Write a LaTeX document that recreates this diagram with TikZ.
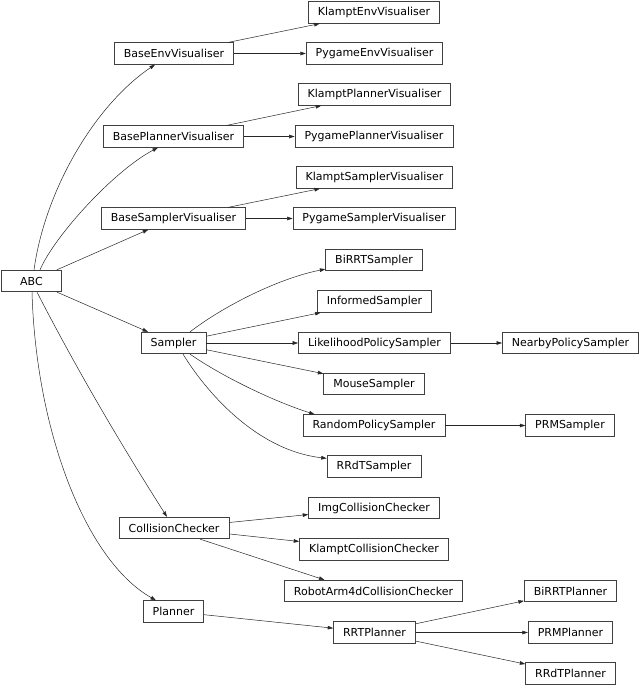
\documentclass[tikz,border=0pt]{standalone}
\usepackage{fontspec}
\setmainfont{DejaVu Sans}
\usetikzlibrary{arrows.meta}
\tikzset{
  cls/.style={draw=black!75, line width=0.75pt, fill=white, inner xsep=9.5pt, inner ysep=0pt,
    minimum height=21.5pt, minimum width=60pt, font=\fontsize{11}{13}\selectfont, text=black},
  inh/.style={draw=black!85, line width=0.5pt, -{Triangle[length=5.5pt,width=3.6pt]}},
}
\begin{document}
\begin{tikzpicture}[x=1pt,y=-1pt]
\useasboundingbox (0,0) rectangle (640,685);
% nodes
\node[cls] (ABC) at (31.5,281) {ABC};
\node[cls] (BaseEnv) at (174,53.5) {BaseEnvVisualiser};
\node[cls] (KlamptEnv) at (374,12.5) {KlamptEnvVisualiser};
\node[cls] (PygameEnv) at (374.5,53.5) {PygameEnvVisualiser};
\node[cls] (BasePlanner) at (173.5,136.5) {BasePlannerVisualiser};
\node[cls] (KlamptPlanner) at (374.5,94.5) {KlamptPlannerVisualiser};
\node[cls] (PygamePlanner) at (374,136.5) {PygamePlannerVisualiser};
\node[cls] (BaseSampler) at (173.5,218.5) {BaseSamplerVisualiser};
\node[cls] (KlamptSampler) at (374.5,177.5) {KlamptSamplerVisualiser};
\node[cls] (PygameSampler) at (374,218.5) {PygameSamplerVisualiser};
\node[cls] (BiRRTS) at (374,260) {BiRRTSampler};
\node[cls] (Informed) at (374.5,301.5) {InformedSampler};
\node[cls] (Sampler) at (173.5,343) {Sampler};
\node[cls] (Likelihood) at (374.5,343) {LikelihoodPolicySampler};
\node[cls] (Nearby) at (570.5,343) {NearbyPolicySampler};
\node[cls] (Mouse) at (374,384) {MouseSampler};
\node[cls] (RandomP) at (374,425.5) {RandomPolicySampler};
\node[cls] (PRMS) at (570,425.5) {PRMSampler};
\node[cls] (RRdTS) at (374,466.5) {RRdTSampler};
\node[cls] (Img) at (374,508) {ImgCollisionChecker};
\node[cls] (CC) at (174,528) {CollisionChecker};
\node[cls] (KlamptCC) at (374,549.5) {KlamptCollisionChecker};
\node[cls] (RobotArm) at (373.5,591) {RobotArm4dCollisionChecker};
\node[cls] (BiRRTP) at (570.5,591) {BiRRTPlanner};
\node[cls] (Planner) at (173.5,611.5) {Planner};
\node[cls] (RRT) at (374.5,632.5) {RRTPlanner};
\node[cls] (PRMP) at (570.5,632.5) {PRMPlanner};
\node[cls] (RRdTP) at (570.5,673.5) {RRdTPlanner};
% edges from ABC
\draw[inh] ([xshift=2.5pt]ABC.north) .. controls (45,190) and (95,105) .. ([xshift=-19pt]BaseEnv.south);
\draw[inh] ([xshift=8.5pt]ABC.north) .. controls (55,235) and (115,170) .. ([xshift=-15.5pt]BasePlanner.south);
\draw[inh] (ABC) -- (BaseSampler);
\draw[inh] (ABC) -- (Sampler);
\draw[inh] ([xshift=5.5pt]ABC.south) .. controls (76,368) and (120,443) .. ([xshift=-7pt]CC.north);
\draw[inh] ([xshift=0.5pt]ABC.south) .. controls (36,430) and (85,560) .. ([xshift=-17.5pt]Planner.north);
% visualisers
\draw[inh] (BaseEnv) -- (KlamptEnv);
\draw[inh] (BaseEnv) -- (PygameEnv);
\draw[inh] (BasePlanner) -- (KlamptPlanner);
\draw[inh] (BasePlanner) -- (PygamePlanner);
\draw[inh] (BaseSampler) -- (KlamptSampler);
\draw[inh] (BaseSampler) -- (PygameSampler);
% samplers
\draw[inh] ([xshift=16.5pt]Sampler.north) .. controls (225,305) and (280,278) .. ([yshift=2pt]BiRRTS.south west);
\draw[inh] (Sampler) -- (Informed);
\draw[inh] (Sampler) -- (Likelihood);
\draw[inh] (Sampler) -- (Mouse);
\draw[inh] ([xshift=16.5pt]Sampler.south) .. controls (220,375) and (270,400) .. ([xshift=12pt]RandomP.north west);
\draw[inh] ([xshift=9.5pt]Sampler.south) .. controls (205,390) and (255,450) .. ([yshift=-3pt]RRdTS.north west);
\draw[inh] (Likelihood) -- (Nearby);
\draw[inh] (RandomP) -- (PRMS);
% collision checkers
\draw[inh] (CC) -- (Img);
\draw[inh] (CC) -- (KlamptCC);
\draw[inh] ([xshift=26pt]CC.south) -- ([xshift=-49pt]RobotArm.north);
% planners
\draw[inh] (Planner) -- (RRT);
\draw[inh] (RRT) -- (BiRRTP);
\draw[inh] (RRT) -- (PRMP);
\draw[inh] (RRT) -- (RRdTP);
\end{tikzpicture}
\end{document}
